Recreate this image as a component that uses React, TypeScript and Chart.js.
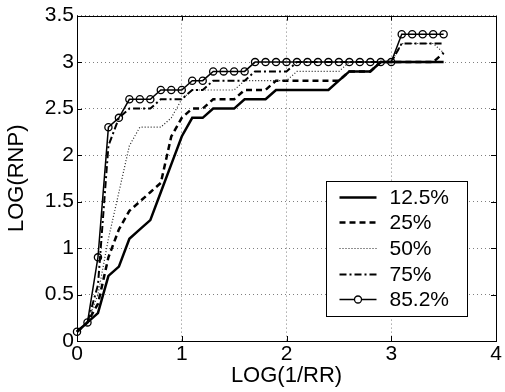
import React, { useEffect, useRef } from "react";
import { Chart, registerables } from "chart.js";

Chart.register(...registerables);

const X_VALUES = [
  0, 0.1, 0.2, 0.3, 0.4, 0.5, 0.6, 0.7, 0.8, 0.9,
  1.0, 1.1, 1.2, 1.3, 1.4, 1.5, 1.6, 1.7, 1.8, 1.9,
  2.0, 2.1, 2.2, 2.3, 2.4, 2.5, 2.6, 2.7, 2.8, 2.9,
  3.0, 3.1, 3.2, 3.3, 3.4, 3.5,
];

const SERIES_LABELS = ["12.5%", "25%", "50%", "75%", "85.2%"];

const S_12_5 = [
  0.1, 0.2, 0.3, 0.7, 0.8, 1.1, 1.2, 1.3, 1.6, 1.9,
  2.2, 2.4, 2.4, 2.5, 2.5, 2.5, 2.6, 2.6, 2.6, 2.7,
  2.7, 2.7, 2.7, 2.7, 2.7, 2.8, 2.9, 2.9, 2.9, 3.0,
  3.0, 3.0, 3.0, 3.0, 3.0, 3.0,
];

const S_25 = [
  0.1, 0.2, 0.4, 0.9, 1.2, 1.4, 1.5, 1.6, 1.7, 2.2,
  2.4, 2.5, 2.5, 2.6, 2.6, 2.6, 2.7, 2.7, 2.7, 2.8,
  2.8, 2.8, 2.8, 2.8, 2.8, 2.8, 2.9, 2.9, 2.9, 3.0,
  3.0, 3.0, 3.0, 3.0, 3.0, 3.1,
];

const S_50 = [
  0.1, 0.2, 0.5, 1.1, 1.6, 2.1, 2.3, 2.3, 2.3, 2.4,
  2.6, 2.7, 2.7, 2.7, 2.7, 2.7, 2.8, 2.8, 2.8, 2.8,
  2.8, 2.9, 2.9, 2.9, 2.9, 2.9, 3.0, 3.0, 3.0, 3.0,
  3.0, 3.2, 3.2, 3.2, 3.2, 3.1,
];

const S_75 = [
  0.1, 0.2, 0.6, 2.1, 2.4, 2.5, 2.5, 2.5, 2.6, 2.6,
  2.6, 2.7, 2.7, 2.8, 2.8, 2.8, 2.8, 2.9, 2.9, 2.9,
  2.9, 3.0, 3.0, 3.0, 3.0, 3.0, 3.0, 3.0, 3.0, 3.0,
  3.0, 3.2, 3.2, 3.2, 3.2, 3.2,
];

const S_85_2 = [
  0.1, 0.2, 0.9, 2.3, 2.4, 2.6, 2.6, 2.6, 2.7, 2.7,
  2.7, 2.8, 2.8, 2.9, 2.9, 2.9, 2.9, 3.0, 3.0, 3.0,
  3.0, 3.0, 3.0, 3.0, 3.0, 3.0, 3.0, 3.0, 3.0, 3.0,
  3.0, 3.3, 3.3, 3.3, 3.3, 3.3,
];

const SERIES_VALUES = [S_12_5, S_25, S_50, S_75, S_85_2];

const X_TITLE = "LOG(1/RR)";
const Y_TITLE = "LOG(RNP)";

const FONT = "'Liberation Sans', Arial, Helvetica, sans-serif";

const STYLES = [
  { width: 2.5, dash: [] as number[], color: "#000", marker: false },
  { width: 2.5, dash: [6, 4], color: "#000", marker: false },
  { width: 1.2, dash: [1, 2], color: "#222", marker: false },
  { width: 2, dash: [7, 3, 2, 3], color: "#000", marker: false },
  { width: 1.5, dash: [] as number[], color: "#000", marker: true },
];

const framePlugin = {
  id: "matlabFrame",
  afterDatasetsDraw(chart: any) {
    const ctx = chart.ctx as CanvasRenderingContext2D;
    const { left, right, top, bottom } = chart.chartArea;
    const xs = chart.scales.x;
    const ys = chart.scales.y;
    ctx.save();
    ctx.setLineDash([]);
    ctx.strokeStyle = "#000";
    ctx.lineWidth = 1;
    ctx.strokeRect(Math.round(left) + 0.5, Math.round(top) + 0.5, Math.round(right - left), Math.round(bottom - top));
    const tl = 5;
    ctx.beginPath();
    xs.ticks.forEach((t: any) => {
      const px = Math.round(xs.getPixelForValue(t.value)) + 0.5;
      ctx.moveTo(px, bottom);
      ctx.lineTo(px, bottom - tl);
      ctx.moveTo(px, top);
      ctx.lineTo(px, top + tl);
    });
    ys.ticks.forEach((t: any) => {
      const py = Math.round(ys.getPixelForValue(t.value)) + 0.5;
      ctx.moveTo(left, py);
      ctx.lineTo(left + tl, py);
      ctx.moveTo(right, py);
      ctx.lineTo(right - tl, py);
    });
    ctx.stroke();

    // legend box
    const boxW = 141;
    const boxH = 135;
    const bx = Math.round(right - 29 - boxW) + 0.5;
    const by = Math.round(bottom - 25 - boxH) + 0.5;
    ctx.fillStyle = "#fff";
    ctx.fillRect(bx, by, boxW, boxH);
    ctx.strokeRect(bx, by, boxW, boxH);
    const rowStart = by + 15;
    const rowStep = 25.7;
    const sx0 = bx + 13;
    const sx1 = bx + 50;
    ctx.font = `21px ${FONT}`;
    ctx.textBaseline = "middle";
    ctx.textAlign = "left";
    SERIES_LABELS.forEach((label, i) => {
      const st = STYLES[i];
      const y = Math.round(rowStart + i * rowStep) + 0.5;
      ctx.save();
      ctx.strokeStyle = st.color;
      ctx.lineWidth = st.width;
      ctx.setLineDash(st.dash);
      ctx.beginPath();
      ctx.moveTo(sx0, y);
      ctx.lineTo(sx1, y);
      ctx.stroke();
      if (st.marker) {
        ctx.setLineDash([]);
        ctx.lineWidth = 1.3;
        ctx.beginPath();
        ctx.fillStyle = "#fff";
        ctx.arc((sx0 + sx1) / 2, y, 3.5, 0, Math.PI * 2);
        ctx.fill();
        ctx.stroke();
      }
      ctx.restore();
      ctx.fillStyle = "#000";
      ctx.fillText(label, bx + 63, y + 1);
    });
    ctx.restore();
  },
};

const fmt = (v: any) => String(Number(v));

export default function App() {
  const ref = useRef<HTMLCanvasElement | null>(null);

  useEffect(() => {
    if (!ref.current) return;
    const datasets = SERIES_VALUES.map((vals, i) => {
      const st = STYLES[i];
      return {
        label: SERIES_LABELS[i],
        data: X_VALUES.map((x, j) => ({ x, y: vals[j] })),
        borderColor: st.color,
        borderWidth: st.width,
        borderDash: st.dash,
        backgroundColor: "rgba(0,0,0,0)",
        fill: false,
        tension: 0,
        pointRadius: st.marker ? 3.6 : 0,
        pointBorderWidth: st.marker ? 1.3 : 0,
        pointBorderColor: "#000",
        pointBackgroundColor: "rgba(0,0,0,0)",
        pointStyle: "circle",
        clip: false as any,
        order: SERIES_LABELS.length - i,
      };
    });

    const chart = new Chart(ref.current, {
      type: "line",
      data: { datasets },
      options: {
        responsive: false,
        animation: false,
        devicePixelRatio: 1,
        layout: { padding: { left: 0, top: 11, right: 9, bottom: 0 } },
        plugins: {
          legend: { display: false },
          tooltip: { enabled: false },
        },
        scales: {
          x: {
            type: "linear",
            min: 0,
            max: 4,
            ticks: {
              stepSize: 1,
              color: "#000",
              font: { family: FONT, size: 21 },
              padding: 1,
              maxRotation: 0,
              callback: fmt,
            },
            grid: { color: "rgba(0,0,0,0.5)", lineWidth: 1, drawTicks: false },
            border: { display: false, dash: [1, 3] },
            title: {
              display: true,
              text: X_TITLE,
              color: "#000",
              font: { family: FONT, size: 22 },
              padding: { top: 0, bottom: 3 },
            },
            afterFit: (s: any) => {
              s.height = 51;
            },
          },
          y: {
            type: "linear",
            min: 0,
            max: 3.5,
            ticks: {
              stepSize: 0.5,
              color: "#000",
              font: { family: FONT, size: 21 },
              padding: 3,
              callback: fmt,
            },
            grid: { color: "rgba(0,0,0,0.5)", lineWidth: 1, drawTicks: false },
            border: { display: false, dash: [1, 3] },
            title: {
              display: true,
              text: Y_TITLE,
              color: "#000",
              font: { family: FONT, size: 22 },
              padding: { top: 4, bottom: 0 },
            },
            afterFit: (s: any) => {
              s.width = 77;
            },
          },
        },
      },
      plugins: [framePlugin],
    });
    return () => chart.destroy();
  }, []);

  return (
    <div style={{ position: "absolute", left: 0, top: 0, width: 505, height: 392, background: "#fff" }}>
      <canvas ref={ref} width={505} height={392} style={{ width: 505, height: 392, display: "block" }} />
    </div>
  );
}
